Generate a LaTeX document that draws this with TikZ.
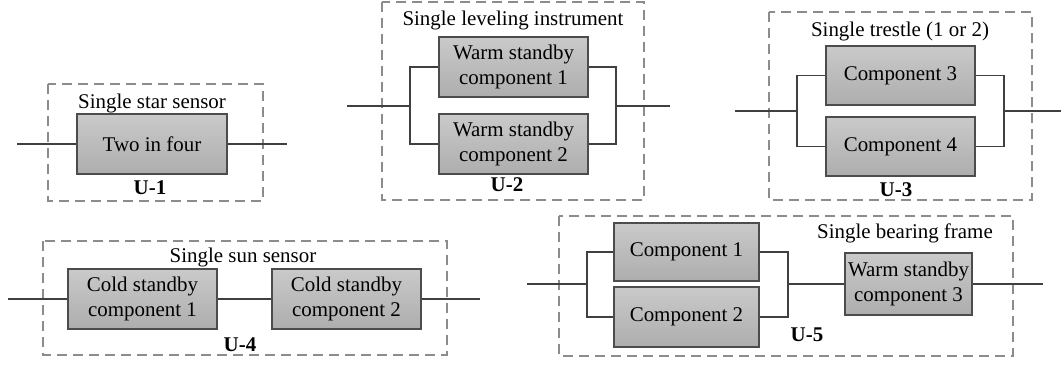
\documentclass[tikz,border=0pt]{standalone}
\usepackage{fontspec}
\setmainfont{Liberation Serif}
\usetikzlibrary{positioning}

\tikzset{
  bloque/.style={draw=black!70, line width=0.8pt, top color=gray!42, bottom color=gray!64,
    minimum width=111.75pt, minimum height=45pt, align=center, inner sep=0pt},
  marco/.style={draw=black!45, line width=0.9pt, dash pattern=on 7.5pt off 4.5pt},
  linea/.style={draw=black!75, line width=1.4pt},
  titulo/.style={inner sep=0pt},
  etiqueta/.style={inner sep=0pt, font=\fontsize{15.7}{18.8}\selectfont\bfseries}
}

\begin{document}
\begin{tikzpicture}[x=0.75pt, y=-0.75pt, font=\fontsize{15.7}{18.8}\selectfont]
\useasboundingbox (0,0) rectangle (1061,365);

% U-1: sensor estelar
\draw[marco] (48,84) rectangle (263,201);
\node[titulo] (tit1) at (152,103) {Single star sensor};
\node[bloque, minimum width=112.5pt] (dos) at (152,144) {Two in four};
\node[etiqueta] (u1) at (150,188) {U-1};
\coordinate (a1) at (17,144);
\coordinate (b1) at (287,144);
\draw[linea] (a1) -- (dos.west) (dos.east) -- (b1);

% U-2: instrumento de nivelacion
\draw[marco] (382,2) rectangle (644,200);
\node[titulo] (tit2) at (513,20) {Single leveling instrument};
\node[bloque] (cal1) at (513.5,67) {Warm standby\\component 1};
\node[bloque] (cal2) at (513.5,144) {Warm standby\\component 2};
\node[etiqueta] (u2) at (507,185) {U-2};
\coordinate (a2) at (347,106);
\coordinate (j2a) at (410,106);
\coordinate (j2b) at (616,106);
\coordinate (b2) at (670,106);
\draw[linea] (a2) -- (j2a) (j2a) |- (cal1.west) (j2a) |- (cal2.west);
\draw[linea] (cal1.east) -| (j2b) (cal2.east) -| (j2b) (j2b) -- (b2);

% U-3: caballete
\draw[marco] (769,12) rectangle (1032,200);
\node[titulo] (tit3) at (900,31) {Single trestle (1 or 2)};
\node[bloque, minimum height=44.25pt] (comp3) at (900.5,75.5) {Component 3};
\node[bloque, minimum height=44.25pt] (comp4) at (900.5,146.5) {Component 4};
\node[etiqueta] (u3) at (896,190) {U-3};
\coordinate (a3) at (735,111);
\coordinate (j3a) at (797,111);
\coordinate (j3b) at (1004,111);
\coordinate (b3) at (1061,111);
\draw[linea] (a3) -- (j3a) (j3a) |- (comp3.west) (j3a) |- (comp4.west);
\draw[linea] (comp3.east) -| (j3b) (comp4.east) -| (j3b) (j3b) -- (b3);

% U-4: sensor solar
\draw[marco] (43,241) rectangle (447,355);
\node[titulo] (tit4) at (243,257) {Single sun sensor};
\node[bloque] (fri1) at (142.5,299) {Cold standby\\component 1};
\node[bloque] (fri2) at (346.5,299) {Cold standby\\component 2};
\node[etiqueta] (u4) at (240,345) {U-4};
\coordinate (a4) at (8,299);
\coordinate (b4) at (480,299);
\draw[linea] (a4) -- (fri1.west) (fri1.east) -- (fri2.west) (fri2.east) -- (b4);

% U-5: marco de rodamiento
\draw[marco] (559,216) rectangle (1013,356);
\node[titulo] (tit5) at (905,233) {Single bearing frame};
\node[bloque, minimum width=108.75pt, minimum height=43.5pt] (comp1) at (686.5,252) {Component 1};
\node[bloque, minimum width=108.75pt] (comp2) at (686.5,317) {Component 2};
\node[bloque, minimum width=95.25pt, minimum height=46.5pt] (cal3) at (908.5,284) {Warm standby\\component 3};
\node[etiqueta] (u5) at (807,335) {U-5};
\coordinate (a5) at (527,284);
\coordinate (j5a) at (587,284);
\coordinate (j5b) at (788,284);
\coordinate (b5) at (1043,284);
\draw[linea] (a5) -- (j5a) (j5a) |- (comp1.west) (j5a) |- (comp2.west);
\draw[linea] (comp1.east) -| (j5b) (comp2.east) -| (j5b) (j5b) -- (cal3.west) (cal3.east) -- (b5);
\end{tikzpicture}
\end{document}
